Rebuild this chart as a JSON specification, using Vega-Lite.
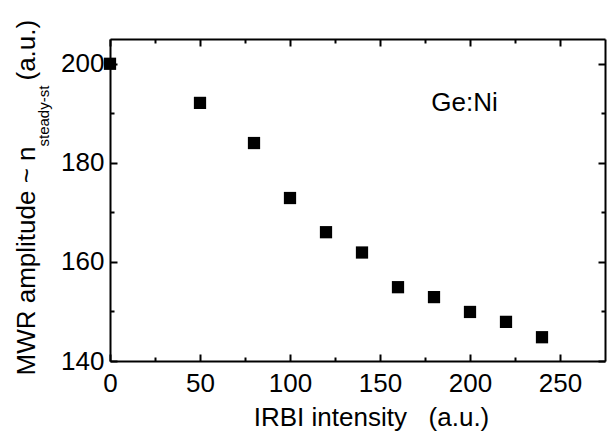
{
  "$schema": "https://vega.github.io/schema/vega-lite/v6.json",
  "width": 495,
  "height": 322,
  "autosize": {"type": "none"},
  "padding": {"left": 110, "top": 39, "right": 3, "bottom": 71},
  "background": "white",
  "config": {
    "view": {"stroke": null},
    "font": "Liberation Sans",
    "axis": {
      "domainColor": "black",
      "domainWidth": 2,
      "tickColor": "black",
      "tickWidth": 2,
      "labelColor": "black",
      "labelFont": "Liberation Sans",
      "labelFontSize": 26,
      "titleColor": "black",
      "titleFont": "Liberation Sans",
      "titleFontWeight": "normal",
      "grid": false,
      "labelFlush": false,
      "labelOverlap": false
    }
  },
  "layer": [
    {
      "data": {
        "values": [
          {"intensity": 0, "amplitude": 200},
          {"intensity": 50, "amplitude": 192.1},
          {"intensity": 80, "amplitude": 184},
          {"intensity": 100, "amplitude": 172.9},
          {"intensity": 120, "amplitude": 166},
          {"intensity": 140, "amplitude": 161.9},
          {"intensity": 160, "amplitude": 154.9},
          {"intensity": 180, "amplitude": 152.9},
          {"intensity": 200, "amplitude": 149.9},
          {"intensity": 220, "amplitude": 147.9},
          {"intensity": 240, "amplitude": 144.8}
        ]
      },
      "mark": {"type": "square", "size": 150, "color": "black", "opacity": 1},
      "encoding": {
        "x": {
          "field": "intensity",
          "type": "quantitative",
          "scale": {"domain": [0, 275], "nice": false, "zero": false},
          "axis": {
            "orient": "bottom",
            "values": [0, 25, 50, 75, 100, 125, 150, 175, 200, 225, 250],
            "labelExpr": "datum.value % 50 === 0 ? datum.label : ''",
            "tickSize": {"condition": {"test": "datum.value % 50 === 0", "value": -7}, "value": -4},
            "labelPadding": 16,
            "title": "IRBI intensity\u00a0\u00a0\u00a0(a.u.)",
            "titleFontSize": 26,
            "titleAngle": 0,
            "titleX": 261,
            "titleY": 64,
            "titleAlign": "center",
            "titleBaseline": "alphabetic"
          }
        },
        "y": {
          "field": "amplitude",
          "type": "quantitative",
          "scale": {"domain": [140, 205], "nice": false, "zero": false},
          "axis": {
            "orient": "left",
            "values": [140, 150, 160, 170, 180, 190, 200],
            "labelExpr": "datum.value % 20 === 0 ? datum.label : ''",
            "tickSize": {"condition": {"test": "datum.value % 20 === 0", "value": -7}, "value": -4},
            "labelPadding": 13,
            "title": "MWR amplitude ~ n",
            "titleFontSize": 26,
            "titleAngle": -90,
            "titleX": -76,
            "titleY": 336,
            "titleAlign": "left",
            "titleBaseline": "alphabetic"
          }
        }
      }
    },
    {
      "data": {"values": [{"label": "Ge:Ni"}]},
      "mark": {"type": "text", "fontSize": 26, "align": "center", "baseline": "alphabetic", "color": "black", "font": "Liberation Sans"},
      "encoding": {
        "text": {"field": "label", "type": "nominal"},
        "x": {
          "datum": 197,
          "type": "quantitative",
          "axis": {
            "orient": "top",
            "values": [0, 25, 50, 75, 100, 125, 150, 175, 200, 225, 250],
            "labels": false,
            "tickSize": {"condition": {"test": "datum.value % 50 === 0", "value": -7}, "value": -4},
            "title": "steady-st",
            "titleFontSize": 15,
            "titleAngle": -90,
            "titleX": -62,
            "titleY": 107,
            "titleAlign": "left",
            "titleBaseline": "alphabetic"
          }
        },
        "y": {
          "datum": 190.5,
          "type": "quantitative",
          "axis": {
            "orient": "right",
            "values": [140, 150, 160, 170, 180, 190, 200],
            "labels": false,
            "tickSize": {"condition": {"test": "datum.value % 20 === 0", "value": -7}, "value": -4},
            "title": "(a.u.)",
            "titleFontSize": 26,
            "titleAngle": -90,
            "titleX": -571,
            "titleY": 41,
            "titleAlign": "left",
            "titleBaseline": "alphabetic"
          }
        }
      }
    }
  ],
  "resolve": {"axis": {"x": "independent", "y": "independent"}}
}
